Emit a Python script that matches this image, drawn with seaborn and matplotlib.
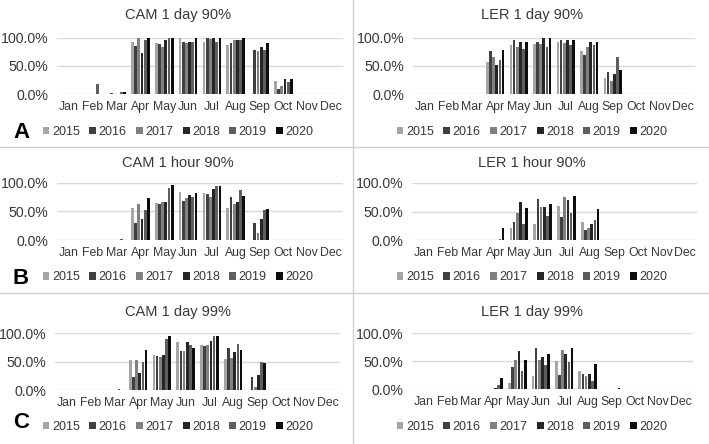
import matplotlib
matplotlib.use("Agg")
import matplotlib.pyplot as plt
from matplotlib.lines import Line2D
from matplotlib.ticker import PercentFormatter
import seaborn as sns
import pandas as pd

# ---- data (percent of days, one list per year, Jan..Dec) ----
months = ["Jan", "Feb", "Mar", "Apr", "May", "Jun",
          "Jul", "Aug", "Sep", "Oct", "Nov", "Dec"]
years = ["2015", "2016", "2017", "2018", "2019", "2020"]

cam_day90 = [
    [0, 0, 0, 93, 90, 99, 93, 87, 0, 23, 0, 0],
    [0, 0, 2, 86, 89, 93, 100, 90, 79, 8, 0, 0],
    [0, 0, 0, 100, 83, 90, 97, 96, 76, 15, 0, 0],
    [0, 0, 0, 73, 96, 93, 100, 96, 83, 26, 0, 0],
    [0, 18, 4, 96, 100, 93, 93, 96, 78, 22, 0, 0],
    [0, 0, 4, 100, 100, 100, 100, 100, 90, 27, 0, 0],
]
ler_day90 = [
    [0, 0, 0, 57, 87, 89, 92, 77, 28, 0, 0, 0],
    [0, 0, 0, 77, 96, 93, 96, 69, 39, 0, 0, 0],
    [0, 0, 0, 66, 83, 89, 90, 84, 23, 0, 0, 0],
    [0, 0, 0, 52, 93, 100, 96, 93, 35, 0, 0, 0],
    [0, 0, 0, 60, 80, 83, 87, 87, 66, 0, 0, 0],
    [0, 0, 0, 79, 93, 100, 96, 93, 43, 0, 0, 0],
]
cam_hour90 = [
    [0, 0, 0, 57, 65, 84, 82, 57, 0, 0, 0, 0],
    [0, 0, 0, 29, 64, 69, 80, 76, 29, 0, 0, 0],
    [0, 0, 0, 63, 67, 73, 75, 64, 12, 0, 0, 0],
    [0, 0, 0, 36, 67, 79, 90, 67, 36, 0, 0, 0],
    [0, 0, 1, 53, 91, 76, 94, 87, 53, 0, 0, 0],
    [0, 0, 0, 73, 96, 82, 94, 77, 54, 0, 0, 0],
]
ler_hour90 = [
    [0, 0, 0, 0, 22, 28, 60, 32, 0, 0, 0, 0],
    [0, 0, 0, 0, 32, 73, 41, 19, 0, 0, 0, 0],
    [0, 0, 0, 0, 48, 59, 76, 22, 0, 0, 0, 0],
    [0, 0, 0, 0, 67, 59, 70, 28, 0, 0, 0, 0],
    [0, 0, 0, 2, 28, 43, 48, 35, 0, 0, 0, 0],
    [0, 0, 0, 22, 57, 63, 78, 54, 0, 0, 0, 0],
]
cam_day99 = [
    [0, 0, 0, 52, 62, 84, 79, 54, 0, 0, 0, 0],
    [0, 0, 0, 23, 60, 69, 77, 73, 23, 0, 0, 0],
    [0, 0, 0, 52, 58, 69, 79, 57, 6, 0, 0, 0],
    [0, 0, 0, 29, 61, 84, 86, 67, 26, 0, 0, 0],
    [0, 0, 1, 49, 90, 79, 94, 81, 49, 0, 0, 0],
    [0, 0, 0, 70, 94, 73, 94, 70, 48, 0, 0, 0],
]
ler_day99 = [
    [0, 0, 0, 0, 10, 23, 50, 33, 0, 0, 0, 0],
    [0, 0, 0, 0, 40, 73, 25, 26, 0, 0, 0, 0],
    [0, 0, 0, 0, 51, 51, 69, 24, 0, 0, 0, 0],
    [0, 0, 0, 2, 67, 57, 62, 26, 0, 0, 0, 0],
    [0, 0, 0, 7, 32, 42, 48, 15, 0, 0, 0, 0],
    [0, 0, 0, 19, 51, 63, 74, 45, 2, 0, 0, 0],
]

titles = ["CAM 1 day 90%", "LER 1 day 90%", "CAM 1 hour 90%",
          "LER 1 hour 90%", "CAM 1 day 99%", "LER 1 day 99%"]
panel_data = [cam_day90, ler_day90, cam_hour90, ler_hour90, cam_day99, ler_day99]
colors = ["#a6a6a6", "#404040", "#808080", "#262626", "#5e5e5e", "#0d0d0d"]

# ---- layout in pixels ----
W, H = 709, 444
# axes boxes: left, right, top(100%), bottom(0%)
boxes = [
    (57, 343, 37.7, 94), (413, 695, 37.7, 94),
    (57, 343, 183, 240), (412, 697, 183, 240.5),
    (55, 340, 333, 390), (412, 693, 333, 389),
]
panel_cx = [178, 532]
title_y = [15, 163, 312]
legend_y = [132, 277.5, 427]
letters = ["A", "B", "C"]
letter_y = [132, 278, 422]

sns.set_theme(style="white")
plt.rcParams["font.family"] = ["Liberation Sans", "DejaVu Sans"]
text_col = "#383838"

fig = plt.figure(figsize=(W / 100, H / 100), dpi=100)

for i, (data, title) in enumerate(zip(panel_data, titles)):
    row, col = divmod(i, 2)
    l, r, t, b = boxes[i]
    ax = fig.add_axes([l / W, 1 - b / H, (r - l) / W, (b - t) / H])

    df = pd.DataFrame([
        {"month": m, "year": y, "value": v}
        for y, vals in zip(years, data)
        for m, v in zip(months, vals)
    ])
    sns.barplot(data=df, x="month", y="value", hue="year", order=months,
                hue_order=years, palette=colors, saturation=1, width=0.8,
                gap=0.15, linewidth=0, ax=ax)

    ax.set_ylim(0, 100)
    ax.set_xlim(-0.5, 11.5)
    ax.set_yticks([0, 50, 100])
    ax.yaxis.set_major_formatter(PercentFormatter(100, decimals=1))
    ax.grid(axis="y", color="#d9d9d9", linewidth=1)
    ax.set_axisbelow(True)
    for s in ax.spines.values():
        s.set_visible(False)
    ax.set_xlabel("")
    ax.set_ylabel("")
    ax.tick_params(axis="y", labelsize=10.2, colors=text_col, length=0, pad=6)
    ax.tick_params(axis="x", labelsize=8.8, colors=text_col, length=0, pad=5)

    cx = panel_cx[col]
    fig.text(cx / W, 1 - title_y[row] / H, title, ha="center", va="center",
             fontsize=10.5, color=text_col)

    sns.move_legend(ax, "center", bbox_to_anchor=(cx / W, 1 - legend_y[row] / H),
                    bbox_transform=fig.transFigure, ncol=6, frameon=False,
                    title=None, fontsize=9, handlelength=0.55,
                    handleheight=0.55, handletextpad=0.2, columnspacing=0.75,
                    labelcolor=text_col)

for row in range(3):
    fig.text(21 / W, 1 - letter_y[row] / H, letters[row], ha="center",
             va="center", fontsize=16, fontweight="bold", color="black")

# panel separators
sep = "#cfcfcf"
fig.add_artist(Line2D([353 / W, 353 / W], [0, 1], color=sep, lw=1))
for yy in [147, 293]:
    fig.add_artist(Line2D([0, 1], [1 - yy / H, 1 - yy / H], color=sep, lw=1))

fig.savefig("out.png", dpi=100)
